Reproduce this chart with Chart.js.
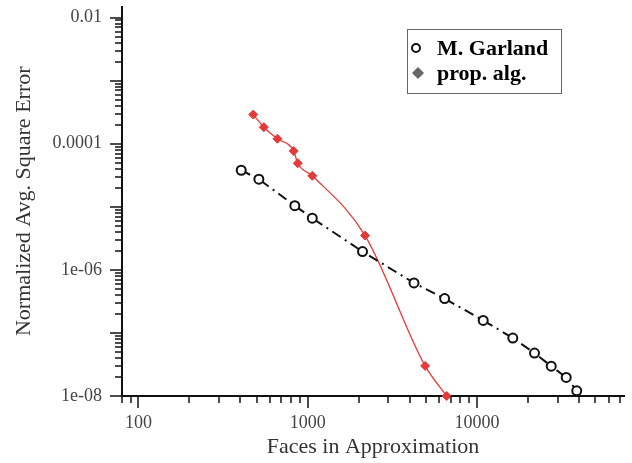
<!DOCTYPE html>
<html>
<head>
<meta charset="utf-8">
<script src="https://cdn.jsdelivr.net/npm/chart.js@4.4.1/dist/chart.umd.min.js"></script>
<style>
  html, body { margin: 0; padding: 0; background: #fff; }
  canvas { display: block; }
</style>
</head>
<body>
<canvas id="errorChart" width="632" height="463"></canvas>
<script>
// values
const garlandFaces = [405, 515, 840, 1065, 2110, 4250, 6450, 10900, 16300, 21900, 27500, 33700, 38900];
const garlandError = [3.8e-5, 2.74e-5, 1.04e-5, 6.6e-6, 1.95e-6, 6.2e-7, 3.5e-7, 1.58e-7, 8.3e-8, 4.8e-8, 2.97e-8, 1.97e-8, 1.21e-8];
const propFaces = [477, 551, 663, 827, 874, 1066, 2184, 4945, 6630];
const propError = [2.9e-4, 1.83e-4, 1.2e-4, 7.66e-5, 4.9e-5, 3.1e-5, 3.5e-6, 3e-8, 1e-8];

const xTickValues = [100, 1000, 10000];
const xTickLabels = ['100', '1000', '10000'];
const yTickValues = [1e-2, 1e-4, 1e-6, 1e-8];
const yTickLabels = ['0.01', '0.0001', '1e-06', '1e-08'];

const seriesNames = ['M. Garland', 'prop. alg.'];

const serif = "'Liberation Serif', 'DejaVu Serif', serif";

function toPoints(xs, ys) {
  return xs.map((x, i) => ({ x: x, y: ys[i] }));
}

function labelFor(values, labels, v) {
  const i = values.findIndex(t => Math.abs(Math.log10(t) - Math.log10(v)) < 1e-6);
  return i >= 0 ? labels[i] : '';
}

// minor + major tick marks on both log axes
const logTicks = {
  id: 'logTicks',
  afterDraw(chart) {
    const ctx = chart.ctx;
    const xs = chart.scales.x, ys = chart.scales.y;
    const area = chart.chartArea;
    ctx.save();
    ctx.strokeStyle = '#111';
    ctx.lineWidth = 1.5;
    for (let e = -9; e <= 5; e++) {
      for (let m = 1; m <= 9; m++) {
        const v = m * Math.pow(10, e);
        const len = m === 1 ? 12 : 7;
        if (v >= xs.min * 0.999 && v <= xs.max * 1.001) {
          const px = Math.round(xs.getPixelForValue(v));
          ctx.beginPath();
          ctx.moveTo(px, area.bottom);
          ctx.lineTo(px, area.bottom + len);
          ctx.stroke();
        }
        if (v >= ys.min * 0.999 && v <= ys.max * 1.001) {
          const py = Math.round(ys.getPixelForValue(v));
          ctx.beginPath();
          ctx.moveTo(area.left, py);
          ctx.lineTo(area.left - len, py);
          ctx.stroke();
        }
      }
    }
    ctx.restore();
  }
};

// boxed legend inside the plot, top right
const legendBox = {
  id: 'legendBox',
  afterDraw(chart) {
    const ctx = chart.ctx;
    const bx = 407, by = 29, bw = 154, bh = 64;
    ctx.save();
    ctx.fillStyle = '#fff';
    ctx.fillRect(bx, by, bw, bh);
    ctx.strokeStyle = '#666';
    ctx.lineWidth = 1;
    ctx.strokeRect(bx + 0.5, by + 0.5, bw, bh);

    // circle marker
    ctx.beginPath();
    ctx.arc(416, 48, 4, 0, Math.PI * 2);
    ctx.strokeStyle = '#111';
    ctx.lineWidth = 2;
    ctx.stroke();

    // diamond marker
    ctx.beginPath();
    ctx.moveTo(418, 67);
    ctx.lineTo(424, 73);
    ctx.lineTo(418, 79);
    ctx.lineTo(412, 73);
    ctx.closePath();
    ctx.fillStyle = '#666';
    ctx.fill();

    ctx.fillStyle = '#000';
    ctx.font = 'bold 22px ' + serif;
    ctx.textBaseline = 'middle';
    ctx.textAlign = 'left';
    ctx.fillText(chart.data.datasets[0].label, 437, 49);
    ctx.fillText(chart.data.datasets[1].label, 437, 74);
    ctx.restore();
  }
};

function noEdgePadding(scale) {
  scale.paddingTop = 0;
  scale.paddingBottom = 0;
  scale.paddingLeft = 0;
  scale.paddingRight = 0;
}

new Chart(document.getElementById('errorChart'), {
  type: 'line',
  data: {
    datasets: [
      {
        label: seriesNames[0],
        data: toPoints(garlandFaces, garlandError),
        borderColor: '#111',
        borderWidth: 2,
        borderDash: [10, 5, 2, 5],
        pointStyle: 'circle',
        pointRadius: 4.5,
        pointBorderWidth: 2,
        pointBorderColor: '#111',
        pointBackgroundColor: '#fff',
        tension: 0,
        clip: false
      },
      {
        label: seriesNames[1],
        data: toPoints(propFaces, propError),
        borderColor: '#e23b3b',
        borderWidth: 1.3,
        cubicInterpolationMode: 'monotone',
        pointStyle: 'rectRot',
        pointRadius: 4.5,
        pointBorderWidth: 1,
        pointBorderColor: '#e23b3b',
        pointBackgroundColor: '#e23b3b',
        clip: false
      }
    ]
  },
  options: {
    responsive: false,
    animation: false,
    devicePixelRatio: 1,
    layout: { padding: { left: 0, top: 5, right: 8, bottom: 0 } },
    plugins: {
      legend: { display: false },
      tooltip: { enabled: false }
    },
    scales: {
      x: {
        type: 'logarithmic',
        min: 80,
        max: 74000,
        grid: { display: false },
        border: { display: true, color: '#111', width: 2 },
        afterBuildTicks: (scale) => { scale.ticks = xTickValues.map(v => ({ value: v })); },
        afterFit: (scale) => { scale.height = 67; noEdgePadding(scale); },
        ticks: {
          autoSkip: false,
          maxRotation: 0,
          padding: 8,
          color: '#444',
          font: { family: serif, size: 18 },
          callback: (v) => labelFor(xTickValues, xTickLabels, v)
        },
        title: {
          display: true,
          text: 'Faces in Approximation',
          color: '#333',
          font: { family: serif, size: 22 },
          padding: { top: 0, bottom: 3 }
        }
      },
      y: {
        type: 'logarithmic',
        min: 1e-8,
        max: 0.015,
        grid: { display: false },
        border: { display: true, color: '#111', width: 2 },
        afterBuildTicks: (scale) => { scale.ticks = yTickValues.map(v => ({ value: v })); },
        afterFit: (scale) => { scale.width = 122; noEdgePadding(scale); },
        ticks: {
          autoSkip: false,
          padding: 12,
          color: '#444',
          font: { family: serif, size: 18 },
          callback: (v) => labelFor(yTickValues, yTickLabels, v)
        },
        title: {
          display: true,
          text: 'Normalized Avg. Square Error',
          color: '#333',
          font: { family: serif, size: 22 },
          padding: { top: 11, bottom: 0 }
        }
      }
    }
  },
  plugins: [logTicks, legendBox]
});
</script>
</body>
</html>
